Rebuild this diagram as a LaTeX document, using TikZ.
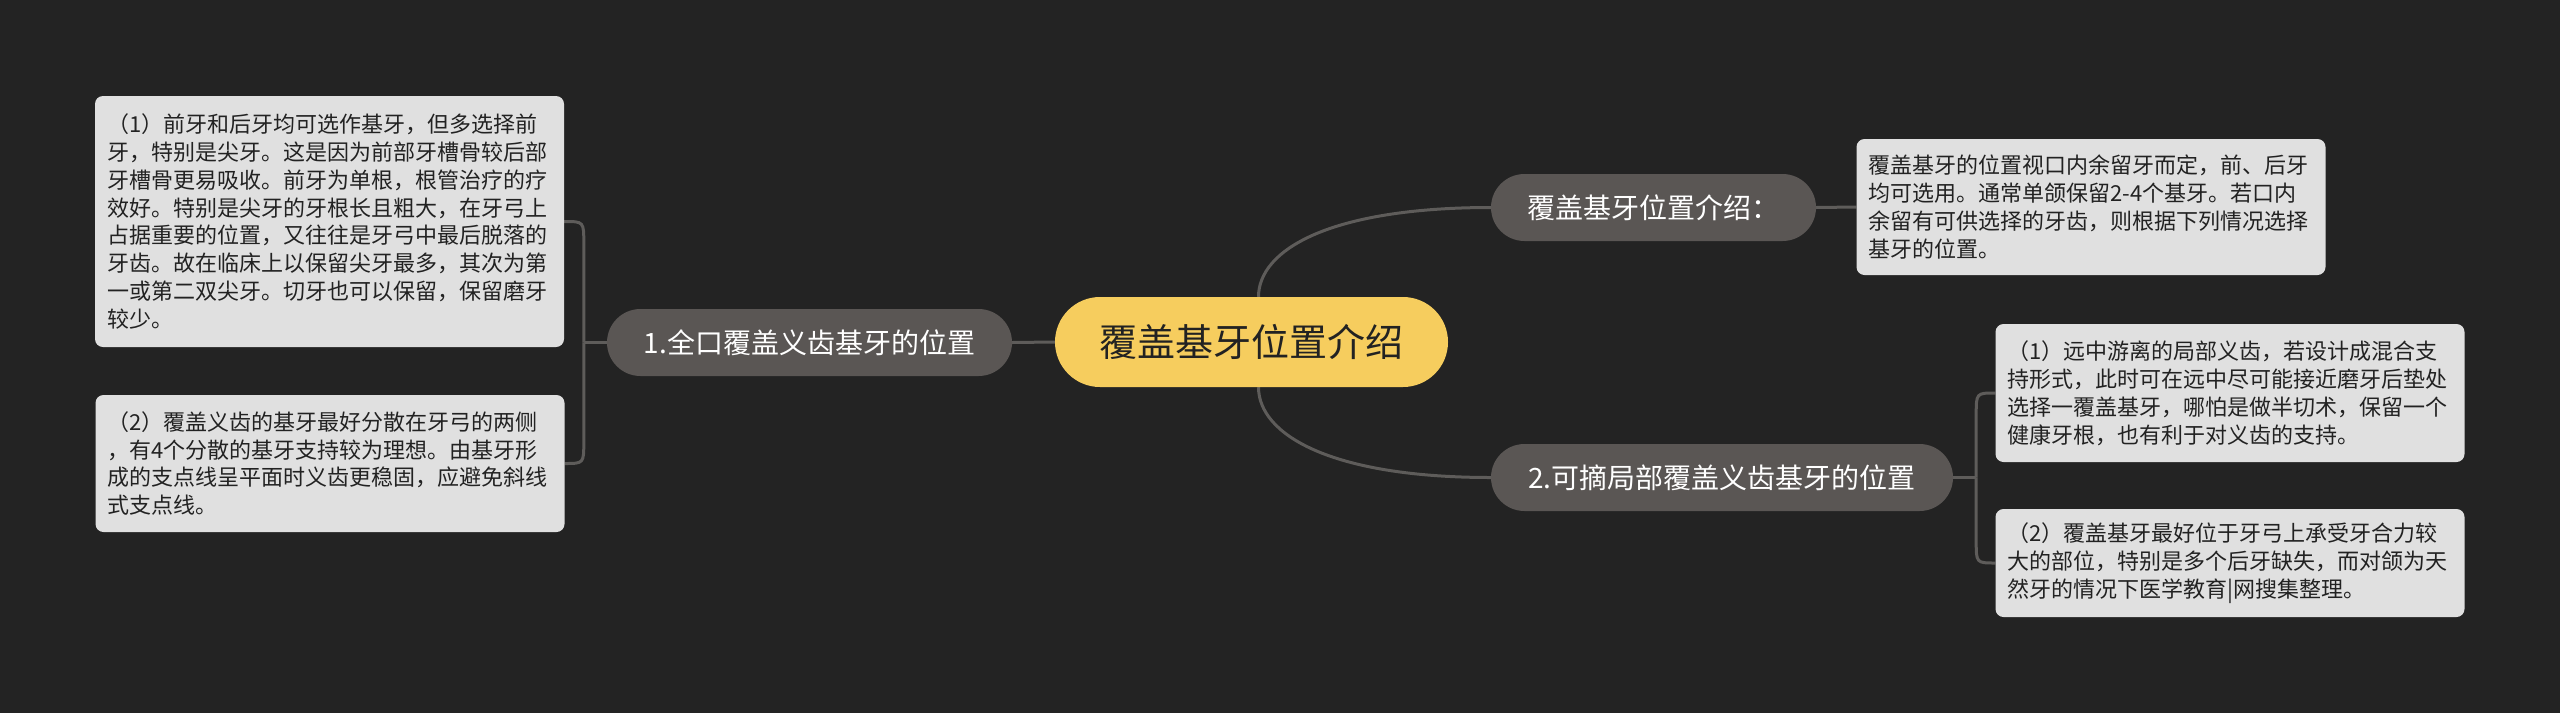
\documentclass[tikz,border=0pt]{standalone}
\usepackage{fontspec}
\setmainfont{Noto Sans CJK SC}
\usetikzlibrary{calc}
\definecolor{bgc}{HTML}{232323}
\definecolor{edgec}{HTML}{5E5C5A}
\definecolor{branchc}{HTML}{5A5654}
\definecolor{centerc}{HTML}{F6CD5E}
\definecolor{boxc}{HTML}{E0E0E0}
\definecolor{darktext}{HTML}{222222}
\pgfdeclarelayer{backdrop}
\pgfdeclarelayer{edgelayer}
\pgfsetlayers{backdrop,edgelayer,main}
\tikzset{
  x=1pt, y=-1pt,
  centernode/.style={fill=centerc, text=darktext, rounded corners=45pt,
    minimum width=393pt, minimum height=90pt, inner sep=0pt,
    font=\fontsize{38}{44}\selectfont},
  branchnode/.style={fill=branchc, text=white, rounded corners=33.5pt,
    minimum height=67pt, inner sep=0pt, font=\fontsize{28}{34}\selectfont},
  textbox/.style={fill=boxc, text=darktext, rounded corners=8pt,
    text width=445pt, inner xsep=12pt, inner ysep=0pt, align=left,
    font=\fontsize{22}{27.9}\selectfont},
  edge/.style={draw=edgec, line width=3pt},
}
\begin{document}
\begin{tikzpicture}
\useasboundingbox (0,0) rectangle (2560,713);
\begin{pgfonlayer}{backdrop}
\fill[bgc] (0,0) rectangle (2560,713);
\end{pgfonlayer}

\node[centernode] (c) at (1251.5,342) {覆盖基牙位置介绍};
\node[branchnode, minimum width=405pt] (n1) at (809.5,342.5) {1.全口覆盖义齿基牙的位置};
\node[branchnode, minimum width=325pt] (nt) at (1653.5,207.5) {覆盖基牙位置介绍：};
\node[branchnode, minimum width=462pt] (n2) at (1722,477.5) {2.可摘局部覆盖义齿基牙的位置};

\node[textbox, minimum height=251pt] (l1) at (329.5,221.5) {（1）前牙和后牙均可选作基牙，但多选择前\\牙，特别是尖牙。这是因为前部牙槽骨较后部\\牙槽骨更易吸收。前牙为单根，根管治疗的疗\\效好。特别是尖牙的牙根长且粗大，在牙弓上\\占据重要的位置，又往往是牙弓中最后脱落的\\牙齿。故在临床上以保留尖牙最多，其次为第\\一或第二双尖牙。切牙也可以保留，保留磨牙\\较少。};
\node[textbox, minimum height=137pt] (l2) at (330,463.5) {（2）覆盖义齿的基牙最好分散在牙弓的两侧\\，有4个分散的基牙支持较为理想。由基牙形\\成的支点线呈平面时义齿更稳固，应避免斜线\\式支点线。};
\node[textbox, minimum height=136pt] (rt) at (2091,207) {覆盖基牙的位置视口内余留牙而定，前、后牙\\均可选用。通常单颌保留2-4个基牙。若口内\\余留有可供选择的牙齿，则根据下列情况选择\\基牙的位置。};
\node[textbox, minimum height=138pt] (r1) at (2230,393) {（1）远中游离的局部义齿，若设计成混合支\\持形式，此时可在远中尽可能接近磨牙后垫处\\选择一覆盖基牙，哪怕是做半切术，保留一个\\健康牙根，也有利于对义齿的支持。};
\node[textbox, minimum height=108pt] (r2) at (2230,563) {（2）覆盖基牙最好位于牙弓上承受牙合力较\\大的部位，特别是多个后牙缺失，而对颌为天\\然牙的情况下医学教育|网搜集整理。};

\coordinate (j1) at ($(n1.west)+(-23,0)$);
\coordinate (j2) at ($(n2.east)+(23,0)$);

\begin{pgfonlayer}{edgelayer}
\draw[edge] (c.west) -- (n1.east);
\draw[edge] ([xshift=7pt]c.north) .. controls +(0,-47) and +(-161,0) .. (nt.west);
\draw[edge] ([xshift=7pt]c.south) .. controls +(0,47) and +(-161,0) .. (n2.west);
\draw[edge] (nt.east) -- (rt.west);
\draw[edge] (n1.west) -- (j1);
\draw[edge] (j1) -- ($(j1 |- l1.east)+(0,22)$) .. controls (j1 |- l1.east) .. (l1.east);
\draw[edge] (j1) -- ($(j1 |- l2.east)+(0,-22)$) .. controls (j1 |- l2.east) .. (l2.east);
\draw[edge] (n2.east) -- (j2);
\draw[edge] (j2) -- ($(j2 |- r1.west)+(0,22)$) .. controls (j2 |- r1.west) .. (r1.west);
\draw[edge] (j2) -- ($(j2 |- r2.west)+(0,-22)$) .. controls (j2 |- r2.west) .. (r2.west);
\end{pgfonlayer}
\end{tikzpicture}
\end{document}
